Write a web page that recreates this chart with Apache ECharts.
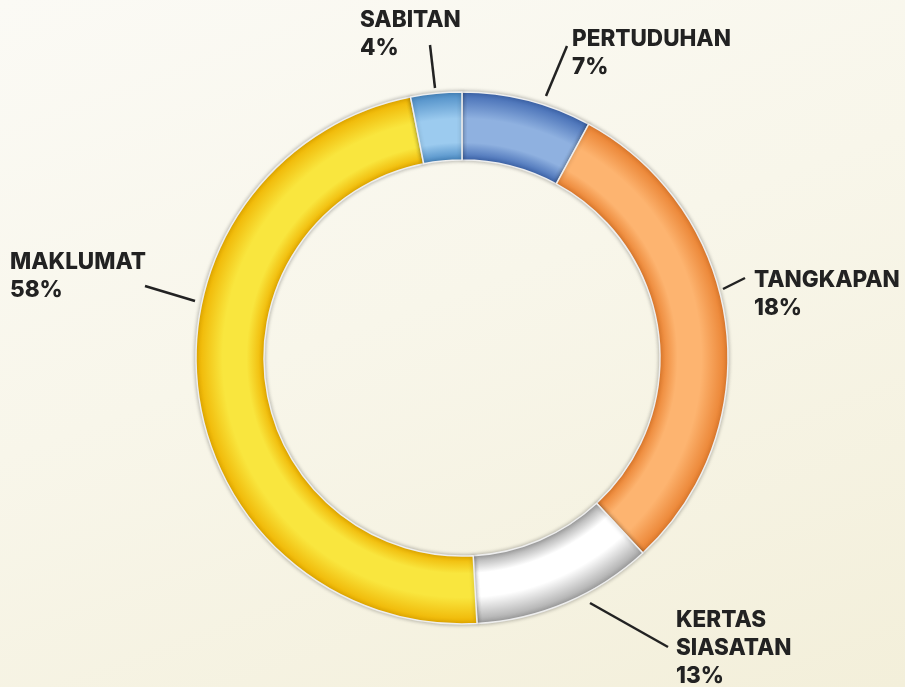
<!DOCTYPE html>
<html>
<head>
<meta charset="utf-8">
<script src="https://cdn.jsdelivr.net/npm/echarts@6/dist/echarts.min.js"></script>
<style>
  html, body { margin: 0; padding: 0; }
  #chart {
    width: 905px; height: 687px;
    background: linear-gradient(160deg, #fbfaf5 0%, #f8f6ea 45%, #f3efda 100%);
  }
</style>
</head>
<body>
<div id="chart"></div>
<script>
  // slices clockwise from 12 o'clock
  var names = ['PERTUDUHAN', 'TANGKAPAN', 'KERTAS\nSIASATAN', 'MAKLUMAT', 'SABITAN'];
  // slice sizes as drawn (share of the ring, %)
  var values = [7.9, 30.2, 11.0, 47.8, 3.1];
  // percentages printed in the labels
  var pctLabels = [7, 18, 13, 58, 4];

  var lightColors = ['#8fb1e0', '#fdb470', '#ffffff', '#f9e63e', '#9ccbef'];
  var darkColors  = ['#4069b2', '#e9802f', '#a5a5a5', '#efb200', '#4a8ac4'];

  // label box (top-left) and leader line [from label, to ring]
  var labelPos = [
    { x: 572, y: 25,  line: [[567, 46], [546, 96]] },
    { x: 754, y: 266, line: [[745, 278], [723, 289]] },
    { x: 676, y: 606, line: [[668, 647], [590, 603]] },
    { x: 10,  y: 248, line: [[145, 286], [195, 301]] },
    { x: 360, y: 6,   line: [[430, 45], [435, 88]] }
  ];

  var cx = 462, cy = 358, rIn = 198, rOut = 266;

  function tube(i) {
    return {
      type: 'radial', x: cx, y: cy, r: rOut, global: true,
      colorStops: [
        { offset: rIn / rOut, color: darkColors[i] },
        { offset: 0.81, color: lightColors[i] },
        { offset: 0.90, color: lightColors[i] },
        { offset: 1, color: darkColors[i] }
      ]
    };
  }

  var chart = echarts.init(document.getElementById('chart'));
  chart.setOption({
    backgroundColor: 'transparent',
    animation: false,
    series: [{
      type: 'pie',
      center: [cx, cy],
      radius: [rIn, rOut],
      startAngle: 90,
      clockwise: true,
      avoidLabelOverlap: false,
      itemStyle: {
        borderColor: '#eeeeee',
        borderWidth: 1.5,
        shadowBlur: 4,
        shadowColor: 'rgba(0,0,0,0.3)'
      },
      label: {
        show: true,
        position: 'outside',
        color: '#222222',
        fontFamily: 'Inter',
        fontWeight: 800,
        fontSize: 22.5,
        lineHeight: 28,
        formatter: function (p) {
          return names[p.dataIndex] + '\n' + pctLabels[p.dataIndex] + '%';
        }
      },
      labelLine: {
        show: true,
        smooth: false,
        lineStyle: { color: '#222222', width: 2.5 }
      },
      labelLayout: function (p) {
        var l = labelPos[p.dataIndex];
        return {
          x: l.x, y: l.y, align: 'left', verticalAlign: 'top',
          labelLinePoints: [l.line[0], l.line[1], l.line[1]]
        };
      },
      data: values.map(function (v, i) {
        return { name: names[i], value: v, itemStyle: { color: tube(i) } };
      })
    }]
  });
</script>
</body>
</html>
